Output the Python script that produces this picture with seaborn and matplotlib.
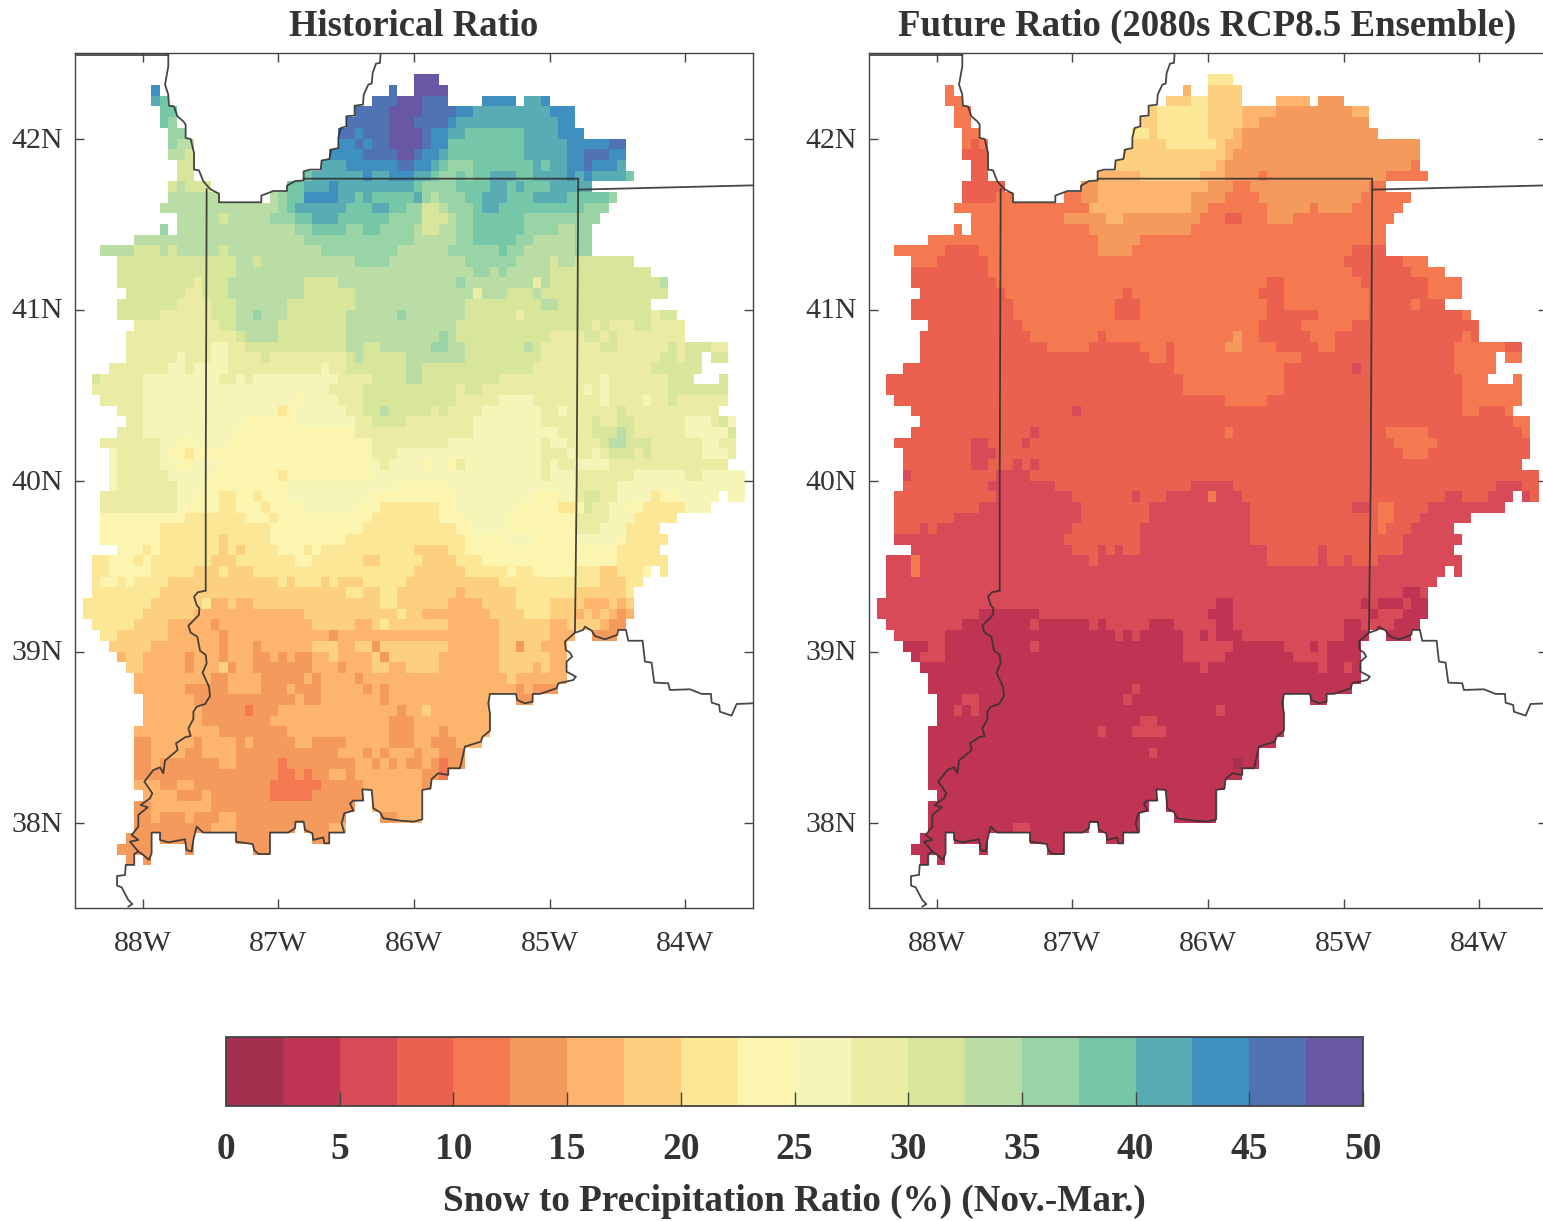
import numpy as np
import matplotlib
matplotlib.use('Agg')
import matplotlib.pyplot as plt
import matplotlib.transforms as mtrans
import seaborn as sns
from matplotlib.colors import ListedColormap

# one letter per 2.5 % class, a = 0-2.5 ... t = 47.5-50
CLASS_LETTERS = 'abcdefghijklmnopqrst'
CLASS_COLORS = ['#a4304f', '#bf3452', '#d94a58', '#ea6150', '#f47850', '#f59a5d', '#fdb56d',
                '#fdd07f', '#fbe796', '#fbf5b0', '#f5f5b8', '#ebeca3', '#d7e69b', '#b9dda4',
                '#98d4a6', '#75c7a7', '#59acb4', '#3f8fc0', '#4f73b3', '#6858a3']
CBAR_TICKS = [0, 5, 10, 15, 20, 25, 30, 35, 40, 45, 50]
LON_TICKS = [-88, -87, -86, -85, -84]
LON_LABELS = ['88W', '87W', '86W', '85W', '84W']
LAT_TICKS = [42, 41, 40, 39, 38]
LAT_LABELS = ['42N', '41N', '40N', '39N', '38N']

# each row of the 1/16 degree grid, north to south: "<end column><class>", '.' = no data
HIST_RUNS = [
    "", "",
    "40. 43t",
    "9. 10r 37. 38s 40. 44t",
    "9. 10q 11p 35. 38s 41t 44s 48. 52r 53. 55q 56r",
    "10. 12p 33. 37s 41t 45s 47r 56q 59r",
    "10. 11p 12o 32. 37s 40t 44s 45r 57q 59r",
    "11. 13o 31. 33s 34r 37s 41t 42s 44r 46q 53p 57q 60r",
    "11. 12o 14n 31. 33r 34s 35r 37s 41t 42s 44r 53p 58q 63r 65s",
    "11. 13n 14m 30. 34r 38s 40t 41s 43r 44q 53p 58q 60r 63s 65r",
    "12. 14m 29. 32q 38r 40s 42r 43q 44p 47o 54p 55q 56p 58q 60r 61s 64r 65q",
    "12. 14m 27. 28p 34q 35r 37q 40r 42q 43p 45o 46p 47o 49p 52q 54p 58q 59r 60q 61r 65q 66p",
    "11. 12m 13n 16m 25. 27p 30q 31r 40q 41p 45o 49p 51q 52p 53q 56p 61q",
    "11. 17n 23. 24n 25o 27p 31r 33q 34p 35q 40p 41q 42o 43n 46o 48p 51q 54p 58q 63p 64o",
    "10. 24n 25o 26p 32q 35p 37q 39p 41o 43m 44n 47o 48p 50q 60p 63o",
    "12. 17n 18m 23n 26o 28p 31q 37p 41o 44m 45n 47o 53p 62o",
    "10. 11o 12. 26n 28o 32p 34o 36p 40o 41n 43m 45n 47o 53p 57o 59n 61o",
    "7. 27n 40o 45n 47o 52p 54o 59n 61o",
    "3. 7n 10m 11n 12m 17n 18m 29n 38o 44n 50o 51p 53o 59n 61o",
    "5. 19m 21n 22m 33n 37o 46n 52o 56n 57m 59n 66m",
    "5. 19m 47n 49o 50n 51o 56n 68m",
    "5. 14m 15l 18m 27n 31m 45n 46o 54n 55l 56n 69m 70n",
    "6. 13m 15l 18m 27n 33m 47n 48l 51n 54m 55n 70m",
    "5. 12m 16l 19m 25n 33m 46n 55m 57n 68m",
    "5. 10m 16l 19m 21n 22o 25n 32m 38n 39o 46n 52m 53l 68m 69l 71m",
    "7. 17l 19m 24n 32m 45n 61m 62l 63m 66l 68m 72l",
    "6. 19l 20m 24n 32m 43n 44o 45n 56m 60l 62m 63l 64m 72l",
    "6. 16l 18k 20l 32m 34n 36m 42n 44o 46n 53m 54n 55m 62l 64m 70l 71m 72l 75m 77l",
    "6. 12l 13k 16l 18k 22l 23m 32l 33m 34n 39m 46n 55m 69l 71m 72l 74m 75. 77m",
    "4. 11l 13k 14l 18k 29l 30k 32l 39m 41n 54m 68l 74m",
    "2. 3m 8l 17k 19l 20k 21l 31k 35l 39m 41n 50m 62l 63k 70l 73m 76. 77m",
    "2. 8l 30k 34l 45m 46l 48m 60l 61k 62l 63k 70l 77m",
    "3. 8l 26k 27j 31k 34l 45m 50l 54k 62l 63k 67l 68k 70l 71m 77l",
    "5. 8l 24k 25i 26j 32k 34l 36m 37n 42m 43l 44m 48l 55k 57l 58k 64l 65m 76l",
    "6. 8l 20k 26j 33k 35l 39m 47l 55k 61l 62m 64l 66m 72l 75k 76l 77m 78k",
    "5. 8l 19k 33j 47l 57k 61l 64m 65n 66m 72l 77k 78m",
    "3. 10l 12k 14j 18k 35j 44l 55k 56l 58k 62l 63m 65n 68m 74l 76k 78l",
    "4. 5k 10l 11k 13j 14i 35j 38l 55k 58l 59k 61l 62k 63l 66m 67l 68m 74l 77k 78l",
    "4. 5k 10l 12k 14j 17k 35j 36k 37l 41k 42j 44k 45j 46l 55k 56l 57k 59l 63k 77l",
    "4. 5k 11l 16k 24j 25i 35j 55k 56l 59k 66l 72k 74l 79k",
    "4. 5k 12l 15k 25j 38k 44j 59k 64l 79k",
    "3. 12l 14k 17j 19i 21j 22i 25j 35k 45j 54k 57j 59k 60l 62m 64l 68k 69i 71j 76k 77. 79k",
    "3. 12l 13k 17j 19i 22j 23i 27j 33k 36j 43i 45j 52k 57j 59i 60j 61m 63l 65k 67j 72i 75k",
    "3. 13j 20i 23j 24i 35j 43i 46j 51k 59j 63l 66k 71i",
    "3. 10j 23i 34j 45i 47j 51k 59j 62l 65k 69i",
    "3. 10j 17i 18h 23i 32j 46i 51j 54k 59j 64k 65j 70i",
    "5. 8j 9i 10j 17i 18h 19i 20h 24i 27j 28i 29j 40i 44h 46i 64j 69i",
    "2. 4i 7j 8i 9j 16i 19h 26i 28j 34i 36h 41i 45h 48i 64j 70i",
    "2. 4i 9j 14i 17h 18i 21h 40i 46h 51i 52j 54i 59j 62i 64h 67i 68j 69. 70i",
    "2. 3i 5j 6i 7j 11i 24h 25i 26h 29i 30h 31i 34h 39i 50h 62i 65h 67i",
    "2. 10i 32h 34i 36h 38i 45h 46g 52h 59i 65h 66i",
    "1. 9i 15h 16i 18g 19h 21g 36h 38i 44h 48g 52h 56i 60h 63g 64h 65g 66h",
    "1. 8i 14h 27g 38h 39i 41h 49g 53h 56i 59h 60g 61h 62g 63h 64g 65f 66g",
    "2. 7i 11h 16g 17f 28g 33h 35g 36h 37i 44h 50g 56h 58g 62h 63g 65f",
    "3. 5i 11h 17g 18f 30g 31f 50g 56h 59g 61. 64f",
    "4. 9h 17g 18f 21g 22f 28g 31h 33g 35h 36f 44h 50g 52h 53f 55h 58g",
    "5. 6g 8h 13g 14f 17g 18f 21g 23f 24g 25f 26g 28f 30g 31h 35g 36h 37f 43h 50g 56h 58g",
    "6. 8h 13g 14f 17g 18h 19f 21g 28f 31g 32f 35g 37h 39g 43h 50g 54h 55g 56h 58g",
    "7. 16g 18f 22g 27f 28g 29f 33g 34f 51g 52h 58g",
    "7. 13g 18f 22g 25f 26g 29f 34g 35f 36g 37f 52g 53f 54g 57f",
    "8. 14g 26f 27g 29f 36g 37f 49g 52. 54f",
    "8. 15g 20f 21e 24f 38g 39f 41g 42h 49g",
    "8. 15g 23f 37g 40f 49g",
    "7. 17g 25f 37g 40f 43g 44f 49g",
    "7. 9f 14g 15f 19g 20f 21g 26f 28g 32f 37g 40f 42g 45f 48g",
    "7. 9f 13g 15f 19g 31f 34g 35f 36g 37f 40g 41f 43g 46f",
    "7. 9f 10g 17f 19g 24f 25e 33f 35g 36f 37g 38f 39g 41f 42g 43f 44e 46f",
    "7. 24f 26e 27f 28e 30f 32g 33f 41g 43f 44e",
    "7. 10g 12f 14g 23f 29e 34f 41g 42f",
    "8. 12g 15f 16g 23f 28e 34f 35. 41g",
    "7. 9f 16g 33f 35. 41g",
    "7. 9f 10g 13f 14g 17f 19g 32f 36. 38f 41g",
    "7. 16f 19g 26f 27. 30f 32g",
    "6. 9f 10. 14f 19. 23f 28. 30f",
    "5. 9f 13. 14f 21. 23f",
    "6. 7f 8. 9f",
    "", "", "", "",
]

FUTURE_RUNS = [
    "", "",
    "80i",
    "20e 39g 80h",
    "20e 38h 40i 48h 52g 80f",
    "20e 34h 40i 44h 48g 57f 80g",
    "20e 34h 40i 44h 46g 80f",
    "20e 33i 34h 40i 43h 44g 80f",
    "12e 13d 14e 31e 35h 41i 42h 44g 80f",
    "14d 42h 43g 80f",
    "14d 41h 42g 64f 80e",
    "14d 32g 39h 42g 46f 47e 61f 80e",
    "16d 25e 27f 40g 43f 45e 59f 80e",
    "15d 25e 27f 38g 42f 46e 58f 80e",
    "26e 38g 40f 47e 52f 53e 57f 80e",
    "23e 28f 30g 39f 42e 44d 47e 50f 80e",
    "26e 38f 80e",
    "27e 32f 80e",
    "9e 13d 27e 31f 57e 61d 80e",
    "8e 14d 56e 63d 80e",
    "14d 57e 64d 80e",
    "15d 47e 49d 58e 66d 80e",
    "16d 30e 31d 46e 49d 59e 66d 80e",
    "17d 29e 32d 47e 49d 59e 64d 65e 80d",
    "17d 29e 32d 47e 53d 59e 70d 80e",
    "18d 46e 51d 57e 80d",
    "19d 27e 28d 43e 44f 46e 52d 55e 70d 71e 80d",
    "21d 26e 32d 35e 36d 42e 44f 48e 53d 55e 69d 75e 80d",
    "33d 35e 36d 51e 69d 80e",
    "36d 49e 57d 58c 69d 80e",
    "37d 49e 70d 80e",
    "37d 49e 70d 80e",
    "42d 47e 70d 80e",
    "24d 25c 70d 72e 75d 80e",
    "76d 80e",
    "19d 20c 42d 43e 61d 66e 77d 78e 80d",
    "12d 14c 18d 19c 62d 67e 80d",
    "12d 15c 63d 66e 80d",
    "12d 14c 17d 18c 19d 20c 80d",
    "4d 5c 15d 19c 80d",
    "14d 22c 38d 43c 74d 77c 80d",
    "15d 24c 31d 32c 35d 40c 41e 44c 68d 70c 73d 78c 80d",
    "13d 25c 33d 45c 57d 59c 60d 62e 66d 80c",
    "10d 25c 33d 45c 60d 62e 65d 80c",
    "6d 7c 8d 24c 32d 45c 60d 61e 64d 80c",
    "23c 32d 45c 63d 80c",
    "24c 27d 28c 29d 30c 32d 47c 53d 54c 63d 80c",
    "5c 6e 26c 27d 47c 53d 54c 56d 57c 60d 80c",
    "5c 6e 80c",
    "80c",
    "63c 65b 80c",
    "41c 43b 58c 59b 60c 63b 64c 80b",
    "13c 20b 40c 43b 59c 60b 63c 80b",
    "11c 19b 20c 26b 27c 28b 33c 36b 41c 43b 56c 58b 62c 80b",
    "9c 29b 30c 31b 32c 37b 39c 40b 41c 44b 56c 80b",
    "7b 9c 19b 20c 37b 43c 49b 52c 53b 54c 80b",
    "6b 9c 37b 42c 50b 54c 80b",
    "39b 40c 53b 54c 56b 57c 80b",
    "80b",
    "31b 32c 80b",
    "11b 13c 30b 31c 80b",
    "10b 11c 12b 13c 41b 42c 80b",
    "32b 34c 80b",
    "27b 28c 31b 35c 80b",
    "80b",
    "33b 34c 80b",
    "43b 44a 80b",
    "80b", "80b", "80b", "80b", "80b",
    "17b 19c 80b",
    "80b", "80b", "80b",
    "", "", "", "",
]

# boundaries, degrees east / north
TOP_LON = [-88.5, -87.812]
TOP_LAT = [42.49, 42.49]
LAKE_LON = [-87.812, -87.812, -87.836, -87.812, -87.807, -87.770, -87.745, -87.701, -87.684, -87.684,
            -87.647, -87.622, -87.622, -87.586, -87.554, -87.504, -87.438, -87.438, -87.126, -87.126,
            -87.037, -86.937, -86.937, -86.878, -86.814, -86.814, -86.767, -86.688, -86.681, -86.624,
            -86.612, -86.558, -86.558, -86.541, -86.499, -86.499, -86.438, -86.438, -86.376, -86.371,
            -86.337, -86.312, -86.305, -86.280, -86.251, -86.246]
LAKE_LAT = [42.5, 42.422, 42.315, 42.256, 42.192, 42.188, 42.130, 42.100, 42.081, 42.003,
            41.997, 41.915, 41.818, 41.814, 41.750, 41.705, 41.677, 41.627, 41.627, 41.666,
            41.693, 41.693, 41.724, 41.751, 41.755, 41.808, 41.818, 41.818, 41.872, 41.880,
            41.935, 41.944, 42.003, 42.061, 42.071, 42.130, 42.134, 42.192, 42.198, 42.256,
            42.315, 42.321, 42.383, 42.438, 42.442, 42.5]
NORTH_LON = [-86.814, -84.789, -84.800, -84.813]
NORTH_LAT = [41.765, 41.765, 40.0, 39.110]
MICH_LON = [-84.789, -83.5]
MICH_LAT = [41.701, 41.726]
WEST_LON = [-87.529, -87.536, -87.536]
WEST_LAT = [41.705, 40.0, 39.356]
RIVER_LON = [-87.536, -87.595, -87.622, -87.603, -87.583, -87.586, -87.664, -87.647, -87.598, -87.578,
             -87.536, -87.529, -87.559, -87.512, -87.504, -87.541, -87.603, -87.627, -87.627, -87.664,
             -87.647, -87.689, -87.755, -87.743, -87.836, -87.849, -87.873, -87.922, -87.989, -87.930,
             -87.947, -88.016, -87.964, -88.033, -88.033, -88.082, -88.033, -88.094, -88.033, -87.996,
             -87.954, -87.935, -87.935, -87.873, -87.873, -87.812, -87.689, -87.677, -87.640, -87.627,
             -87.603, -87.554, -87.313, -87.313, -87.190, -87.178, -87.148, -87.062, -87.062, -86.927,
             -86.878, -86.873, -86.814, -86.804, -86.750, -86.743, -86.669, -86.661, -86.625, -86.625,
             -86.514, -86.534, -86.514, -86.448, -86.472, -86.448, -86.374, -86.381, -86.312, -86.300,
             -86.251, -86.226, -86.103, -86.000, -85.939, -85.939, -85.878, -85.870, -85.821, -85.747,
             -85.747, -85.661, -85.624, -85.506, -85.494, -85.440, -85.440, -85.452, -85.440, -85.248,
             -85.239, -85.182, -85.125, -85.125, -85.071, -84.948, -84.936, -84.826, -84.806, -84.875,
             -84.875, -84.833, -84.850, -84.880, -84.887, -84.813, -84.752, -84.740, -84.690, -84.666,
             -84.592, -84.501, -84.494, -84.437, -84.420, -84.314, -84.297, -84.248, -84.228, -84.125,
             -84.113, -83.965, -83.879, -83.810, -83.805, -83.749, -83.744, -83.658, -83.621, -83.5]
RIVER_LAT = [39.356, 39.346, 39.321, 39.272, 39.253, 39.214, 39.151, 39.110, 39.087, 39.005,
             38.980, 38.931, 38.876, 38.794, 38.740, 38.693, 38.677, 38.648, 38.605, 38.551,
             38.506, 38.498, 38.463, 38.424, 38.362, 38.288, 38.323, 38.307, 38.239, 38.171,
             38.141, 38.102, 38.089, 38.044, 37.976, 37.927, 37.898, 37.888, 37.830, 37.810,
             37.781, 37.820, 37.941, 37.941, 37.898, 37.884, 37.902, 37.839, 37.830, 37.898,
             37.976, 37.941, 37.941, 37.888, 37.874, 37.839, 37.816, 37.816, 37.941, 37.941,
             37.966, 38.005, 38.005, 37.956, 37.937, 37.898, 37.913, 37.878, 37.878, 37.941,
             37.941, 37.995, 38.054, 38.069, 38.112, 38.128, 38.128, 38.194, 38.190, 38.083,
             38.060, 38.024, 38.011, 38.005, 38.019, 38.190, 38.200, 38.254, 38.288, 38.278,
             38.317, 38.317, 38.444, 38.473, 38.502, 38.537, 38.638, 38.697, 38.752, 38.752,
             38.716, 38.697, 38.707, 38.752, 38.752, 38.785, 38.814, 38.833, 38.853, 38.882,
             38.941, 38.970, 38.993, 39.009, 39.058, 39.110, 39.126, 39.145, 39.122, 39.091,
             39.071, 39.097, 39.126, 39.126, 39.063, 39.063, 38.941, 38.935, 38.818, 38.814,
             38.775, 38.779, 38.752, 38.752, 38.701, 38.687, 38.648, 38.625, 38.693, 38.697]
BRANCH_LON = [-88.033, -88.063, -88.063, -88.126, -88.131, -88.190, -88.190, -88.156, -88.107, -88.077, -88.107]
BRANCH_LAT = [37.830, 37.816, 37.752, 37.752, 37.693, 37.687, 37.631, 37.621, 37.547, 37.523, 37.508]


def parse_runs(rows):
    grid = np.full((80, 80), np.nan)
    for r, row in enumerate(rows):
        start = 0
        for token in row.split():
            end = int(token[:-1])
            if token[-1] != '.':
                # centre of the 2.5 % class
                grid[r, start:end] = CLASS_LETTERS.index(token[-1]) * 2.5 + 1.25
            start = end
    return grid


def draw_border(ax, lons, lats, lw=1.3):
    x = (np.array(lons) + 88.5) * 16
    y = (42.5 - np.array(lats)) * 16
    ax.plot(x, y, color='#333333', lw=lw, solid_joinstyle='round', alpha=0.9, clip_on=True)


sns.set_theme(style='white')
plt.rcParams['font.family'] = ['Liberation Serif']
text_color = '#333333'

hist = parse_runs(HIST_RUNS)
future = parse_runs(FUTURE_RUNS)
future[np.isnan(hist)] = np.nan

W, H = 1543, 1221
fig = plt.figure(figsize=(W / 100, H / 100), dpi=100)
ax1 = fig.add_axes([75 / W, 1 - 908 / H, 678 / W, 855 / H])
ax2 = fig.add_axes([869 / W, 1 - 908 / H, 678 / W, 855 / H])
cax = fig.add_axes([226 / W, 1 - 1106 / H, 1137 / W, 69 / H])

cmap = ListedColormap(sns.color_palette(CLASS_COLORS, len(CLASS_COLORS)))
sns.heatmap(hist, ax=ax1, cmap=cmap, vmin=0, vmax=50, cbar=True, cbar_ax=cax,
            cbar_kws={'orientation': 'horizontal'})
sns.heatmap(future, ax=ax2, cmap=cmap, vmin=0, vmax=50, cbar=False)

titles = ['Historical Ratio', 'Future Ratio (2080s RCP8.5 Ensemble)']
for ax, title in zip([ax1, ax2], titles):
    draw_border(ax, TOP_LON, TOP_LAT)
    draw_border(ax, LAKE_LON, LAKE_LAT)
    draw_border(ax, NORTH_LON, NORTH_LAT)
    draw_border(ax, MICH_LON, MICH_LAT)
    draw_border(ax, WEST_LON, WEST_LAT)
    draw_border(ax, RIVER_LON, RIVER_LAT)
    draw_border(ax, BRANCH_LON, BRANCH_LAT)
    ax.set_xlim(0, 80)
    ax.set_ylim(80, 0)
    ax.set_axisbelow(False)
    ax.set_xticks([(lon + 88.5) * 16 for lon in LON_TICKS])
    ax.set_xticklabels(LON_LABELS, rotation=0)
    ax.set_yticks([(42.5 - lat) * 16 for lat in LAT_TICKS])
    ax.set_yticklabels(LAT_LABELS, rotation=0)
    ax.tick_params(axis='both', direction='in', length=6.3, width=1, color='#444444',
                   top=True, right=True, bottom=True, left=True, labelsize=21.5, labelcolor=text_color)
    ax.tick_params(axis='x', pad=16.5)
    ax.tick_params(axis='y', pad=9)
    # y labels sit a little lower than matplotlib centres them
    nudge = mtrans.ScaledTranslation(0, -2 / 100, fig.dpi_scale_trans)
    for lab in ax.get_yticklabels():
        lab.set_transform(lab.get_transform() + nudge)
    for spine in ax.spines.values():
        spine.set_visible(True)
        spine.set_color('#444444')
        spine.set_linewidth(1)
    ax.set_xlabel('')
    ax.set_ylabel('')

fig.text(414 / W, 1 - 26 / H, titles[0], ha='center', va='center', fontsize=26.4,
         fontweight='bold', color=text_color)
fig.text(1207 / W, 1 - 26 / H, titles[1], ha='center', va='center', fontsize=26.5,
         fontweight='bold', color=text_color)

cbar = ax1.collections[0].colorbar
cbar.ax.set_axisbelow(False)
cbar.set_ticks(CBAR_TICKS)
cbar.set_ticklabels([str(t) for t in CBAR_TICKS])
cbar.ax.tick_params(axis='x', direction='in', length=10, width=1, color='#444444', pad=19,
                    bottom=True, labelsize=27, labelcolor=text_color)
for lab in cbar.ax.get_xticklabels():
    lab.set_fontweight('bold')
cbar.outline.set_visible(True)
cbar.outline.set_edgecolor('#444444')
cbar.outline.set_linewidth(1.3)
fig.text(794 / W, 1 - 1201 / H, 'Snow to Precipitation Ratio (%) (Nov.-Mar.)', ha='center', va='center',
         fontsize=26.7, fontweight='bold', color=text_color)

fig.savefig('out.png', dpi=100)
